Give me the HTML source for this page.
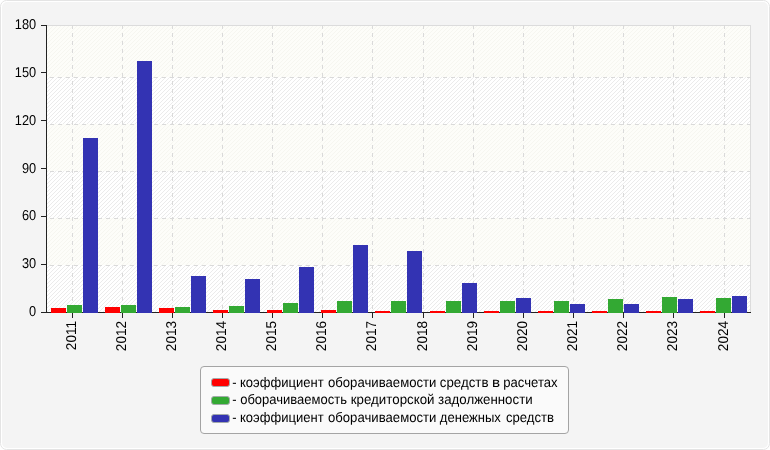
<!DOCTYPE html>
<html><head><meta charset="utf-8"><title>chart</title>
<style>html,body{margin:0;padding:0;background:#fff}svg{display:block}text{font-family:"Liberation Sans",Arial,sans-serif;fill:#000;text-rendering:geometricPrecision}</style></head>
<body>
<svg width="770" height="450" viewBox="0 0 770 450">
<defs>
<pattern id="h1" width="4" height="4" patternUnits="userSpaceOnUse" shape-rendering="crispEdges"><rect width="4" height="4" fill="#fdfdf9"/><g fill="#f6f6f0"><rect x="0" y="2" width="1" height="1"/><rect x="1" y="1" width="1" height="1"/><rect x="2" y="0" width="1" height="1"/><rect x="3" y="3" width="1" height="1"/></g></pattern>
<pattern id="h2" width="4" height="4" patternUnits="userSpaceOnUse" shape-rendering="crispEdges"><rect width="4" height="4" fill="#ffffff"/><g fill="#ebebeb"><rect x="0" y="2" width="1" height="1"/><rect x="1" y="1" width="1" height="1"/><rect x="2" y="0" width="1" height="1"/><rect x="3" y="3" width="1" height="1"/></g></pattern>
</defs>
<rect x="0.5" y="0.5" width="769" height="449" rx="6" ry="6" fill="#ffffff" stroke="#e4e4e4"/>
<rect x="2" y="2" width="766" height="446" rx="5" ry="5" fill="#f4f4f4"/>
<rect x="47" y="25" width="704" height="287" fill="url(#h1)" shape-rendering="crispEdges"/>
<rect x="47" y="265" width="704" height="47" fill="url(#h2)" shape-rendering="crispEdges"/>
<rect x="47" y="171" width="704" height="47" fill="url(#h2)" shape-rendering="crispEdges"/>
<rect x="47" y="77" width="704" height="47" fill="url(#h2)" shape-rendering="crispEdges"/>
<path d="M47,25.5 H750.5 V312" fill="none" stroke="#dcdcdc" stroke-width="1" shape-rendering="crispEdges"/>
<g stroke="#dadada" shape-rendering="crispEdges">
<line x1="50" x2="751" y1="265.5" y2="265.5" stroke-dasharray="4 4.012"/>
<line x1="50" x2="751" y1="218.5" y2="218.5" stroke-dasharray="4 4.012"/>
<line x1="50" x2="751" y1="171.5" y2="171.5" stroke-dasharray="4 4.012"/>
<line x1="50" x2="751" y1="124.5" y2="124.5" stroke-dasharray="4 4.012"/>
<line x1="50" x2="751" y1="77.5" y2="77.5" stroke-dasharray="4 4.012"/>
<line x1="72.5" x2="72.5" y1="25" y2="312" stroke-dasharray="4 4"/>
<line x1="122.5" x2="122.5" y1="25" y2="312" stroke-dasharray="4 4"/>
<line x1="172.5" x2="172.5" y1="25" y2="312" stroke-dasharray="4 4"/>
<line x1="222.5" x2="222.5" y1="25" y2="312" stroke-dasharray="4 4"/>
<line x1="272.5" x2="272.5" y1="25" y2="312" stroke-dasharray="4 4"/>
<line x1="322.5" x2="322.5" y1="25" y2="312" stroke-dasharray="4 4"/>
<line x1="372.5" x2="372.5" y1="25" y2="312" stroke-dasharray="4 4"/>
<line x1="423.5" x2="423.5" y1="25" y2="312" stroke-dasharray="4 4"/>
<line x1="473.5" x2="473.5" y1="25" y2="312" stroke-dasharray="4 4"/>
<line x1="523.5" x2="523.5" y1="25" y2="312" stroke-dasharray="4 4"/>
<line x1="573.5" x2="573.5" y1="25" y2="312" stroke-dasharray="4 4"/>
<line x1="623.5" x2="623.5" y1="25" y2="312" stroke-dasharray="4 4"/>
<line x1="673.5" x2="673.5" y1="25" y2="312" stroke-dasharray="4 4"/>
<line x1="724.5" x2="724.5" y1="25" y2="312" stroke-dasharray="4 4"/>
</g>
<g stroke="#222222" stroke-width="1" shape-rendering="crispEdges">
<line x1="46.5" x2="46.5" y1="25" y2="313"/>
<line x1="41" x2="751" y1="312.5" y2="312.5"/>
<line x1="41" x2="47" y1="264.5" y2="264.5"/>
<line x1="41" x2="47" y1="216.5" y2="216.5"/>
<line x1="41" x2="47" y1="168.5" y2="168.5"/>
<line x1="41" x2="47" y1="120.5" y2="120.5"/>
<line x1="41" x2="47" y1="72.5" y2="72.5"/>
<line x1="41" x2="47" y1="25.5" y2="25.5"/>
<line x1="72.5" x2="72.5" y1="313" y2="318"/>
<line x1="122.5" x2="122.5" y1="313" y2="318"/>
<line x1="172.5" x2="172.5" y1="313" y2="318"/>
<line x1="222.5" x2="222.5" y1="313" y2="318"/>
<line x1="272.5" x2="272.5" y1="313" y2="318"/>
<line x1="322.5" x2="322.5" y1="313" y2="318"/>
<line x1="372.5" x2="372.5" y1="313" y2="318"/>
<line x1="423.5" x2="423.5" y1="313" y2="318"/>
<line x1="473.5" x2="473.5" y1="313" y2="318"/>
<line x1="523.5" x2="523.5" y1="313" y2="318"/>
<line x1="573.5" x2="573.5" y1="313" y2="318"/>
<line x1="623.5" x2="623.5" y1="313" y2="318"/>
<line x1="673.5" x2="673.5" y1="313" y2="318"/>
<line x1="724.5" x2="724.5" y1="313" y2="318"/>
</g>
<g shape-rendering="crispEdges">
<rect x="51" y="308" width="15" height="5" fill="#ff0000"/>
<rect x="67" y="305" width="15" height="8" fill="#33a933"/>
<rect x="83" y="138" width="15" height="175" fill="#3333b3"/>
<rect x="105" y="307" width="15" height="6" fill="#ff0000"/>
<rect x="121" y="305" width="15" height="8" fill="#33a933"/>
<rect x="137" y="61" width="15" height="252" fill="#3333b3"/>
<rect x="159" y="308" width="15" height="5" fill="#ff0000"/>
<rect x="175" y="307" width="15" height="6" fill="#33a933"/>
<rect x="191" y="276" width="15" height="37" fill="#3333b3"/>
<rect x="213" y="310" width="15" height="3" fill="#ff0000"/>
<rect x="229" y="306" width="15" height="7" fill="#33a933"/>
<rect x="245" y="279" width="15" height="34" fill="#3333b3"/>
<rect x="267" y="310" width="15" height="3" fill="#ff0000"/>
<rect x="283" y="303" width="15" height="10" fill="#33a933"/>
<rect x="299" y="267" width="15" height="46" fill="#3333b3"/>
<rect x="321" y="310" width="15" height="3" fill="#ff0000"/>
<rect x="337" y="301" width="15" height="12" fill="#33a933"/>
<rect x="353" y="245" width="15" height="68" fill="#3333b3"/>
<rect x="375" y="311" width="15" height="2" fill="#ff0000"/>
<rect x="391" y="301" width="15" height="12" fill="#33a933"/>
<rect x="407" y="251" width="15" height="62" fill="#3333b3"/>
<rect x="430" y="311" width="15" height="2" fill="#ff0000"/>
<rect x="446" y="301" width="15" height="12" fill="#33a933"/>
<rect x="462" y="283" width="15" height="30" fill="#3333b3"/>
<rect x="484" y="311" width="15" height="2" fill="#ff0000"/>
<rect x="500" y="301" width="15" height="12" fill="#33a933"/>
<rect x="516" y="298" width="15" height="15" fill="#3333b3"/>
<rect x="538" y="311" width="15" height="2" fill="#ff0000"/>
<rect x="554" y="301" width="15" height="12" fill="#33a933"/>
<rect x="570" y="304" width="15" height="9" fill="#3333b3"/>
<rect x="592" y="311" width="15" height="2" fill="#ff0000"/>
<rect x="608" y="299" width="15" height="14" fill="#33a933"/>
<rect x="624" y="304" width="15" height="9" fill="#3333b3"/>
<rect x="646" y="311" width="15" height="2" fill="#ff0000"/>
<rect x="662" y="297" width="15" height="16" fill="#33a933"/>
<rect x="678" y="299" width="15" height="14" fill="#3333b3"/>
<rect x="700" y="311" width="15" height="2" fill="#ff0000"/>
<rect x="716" y="298" width="15" height="15" fill="#33a933"/>
<rect x="732" y="296" width="15" height="17" fill="#3333b3"/>
</g>
<text font-size="14.2" text-anchor="end" transform="translate(36.1,316) scale(0.9,1)">0</text>
<text font-size="14.2" text-anchor="end" transform="translate(36.1,268) scale(0.9,1)">30</text>
<text font-size="14.2" text-anchor="end" transform="translate(36.1,220) scale(0.9,1)">60</text>
<text font-size="14.2" text-anchor="end" transform="translate(36.1,172.6) scale(0.9,1)">90</text>
<text font-size="14.2" text-anchor="end" transform="translate(36.1,125) scale(0.9,1)">120</text>
<text font-size="14.2" text-anchor="end" transform="translate(36.1,77) scale(0.9,1)">150</text>
<text font-size="14.2" text-anchor="end" transform="translate(36.1,28.8) scale(0.9,1)">180</text>
<text font-size="14.2" text-anchor="end" transform="translate(75.6,321.0) rotate(-90) scale(0.955,1)">2011</text>
<text font-size="14.2" text-anchor="end" transform="translate(125.6,321.0) rotate(-90) scale(0.955,1)">2012</text>
<text font-size="14.2" text-anchor="end" transform="translate(175.6,321.0) rotate(-90) scale(0.955,1)">2013</text>
<text font-size="14.2" text-anchor="end" transform="translate(225.6,321.0) rotate(-90) scale(0.955,1)">2014</text>
<text font-size="14.2" text-anchor="end" transform="translate(275.6,321.0) rotate(-90) scale(0.955,1)">2015</text>
<text font-size="14.2" text-anchor="end" transform="translate(325.6,321.0) rotate(-90) scale(0.955,1)">2016</text>
<text font-size="14.2" text-anchor="end" transform="translate(375.6,321.0) rotate(-90) scale(0.955,1)">2017</text>
<text font-size="14.2" text-anchor="end" transform="translate(426.6,321.0) rotate(-90) scale(0.955,1)">2018</text>
<text font-size="14.2" text-anchor="end" transform="translate(476.6,321.0) rotate(-90) scale(0.955,1)">2019</text>
<text font-size="14.2" text-anchor="end" transform="translate(526.6,321.0) rotate(-90) scale(0.955,1)">2020</text>
<text font-size="14.2" text-anchor="end" transform="translate(576.6,321.0) rotate(-90) scale(0.955,1)">2021</text>
<text font-size="14.2" text-anchor="end" transform="translate(626.6,321.0) rotate(-90) scale(0.955,1)">2022</text>
<text font-size="14.2" text-anchor="end" transform="translate(676.6,321.0) rotate(-90) scale(0.955,1)">2023</text>
<text font-size="14.2" text-anchor="end" transform="translate(727.6,321.0) rotate(-90) scale(0.955,1)">2024</text>
<rect x="200.5" y="366.5" width="368" height="67" rx="3.5" ry="3.5" fill="#fafafa" stroke="#a4a4a4"/>
<rect x="211.5" y="378.5" width="18" height="8" rx="2.5" ry="2.5" fill="#ff0000" stroke="#a3aaaa" stroke-width="1"/>
<text font-size="13.8" fill="#444" transform="translate(232.30,386.55) scale(0.9400,1)">-</text>
<text font-size="13.8" fill="#444" transform="translate(240.00,386.55) scale(0.9443,1)">коэффициент</text>
<text font-size="13.8" fill="#444" transform="translate(327.95,386.55) scale(0.9534,1)">оборачиваемости</text>
<text font-size="13.8" fill="#444" transform="translate(439.86,386.55) scale(0.9616,1)">средств</text>
<text font-size="13.8" fill="#444" transform="translate(491.90,386.55) scale(1.1000,1)">в</text>
<text font-size="13.8" fill="#444" transform="translate(503.28,386.55) scale(0.9487,1)">расчетах</text>
<rect x="211.5" y="396.5" width="18" height="8" rx="2.5" ry="2.5" fill="#33a933" stroke="#a3aaaa" stroke-width="1"/>
<text font-size="13.8" fill="#444" transform="translate(232.30,404.30) scale(0.9400,1)">-</text>
<text font-size="13.8" fill="#444" transform="translate(240.16,404.30) scale(0.9435,1)">оборачиваемость</text>
<text font-size="13.8" fill="#444" transform="translate(350.77,404.30) scale(0.9642,1)">кредиторской</text>
<text font-size="13.8" fill="#444" transform="translate(438.08,404.30) scale(0.9630,1)">задолженности</text>
<rect x="211.5" y="414.5" width="18" height="8" rx="2.5" ry="2.5" fill="#3333b3" stroke="#a3aaaa" stroke-width="1"/>
<text font-size="13.8" fill="#444" transform="translate(232.30,422.05) scale(0.9400,1)">-</text>
<text font-size="13.8" fill="#444" transform="translate(240.00,422.05) scale(0.9443,1)">коэффициент</text>
<text font-size="13.8" fill="#444" transform="translate(327.95,422.05) scale(0.9534,1)">оборачиваемости</text>
<text font-size="13.8" fill="#444" transform="translate(439.78,422.05) scale(0.9471,1)">денежных</text>
<text font-size="13.8" fill="#444" transform="translate(505.89,422.05) scale(0.9526,1)">средств</text>
</svg></body></html>
